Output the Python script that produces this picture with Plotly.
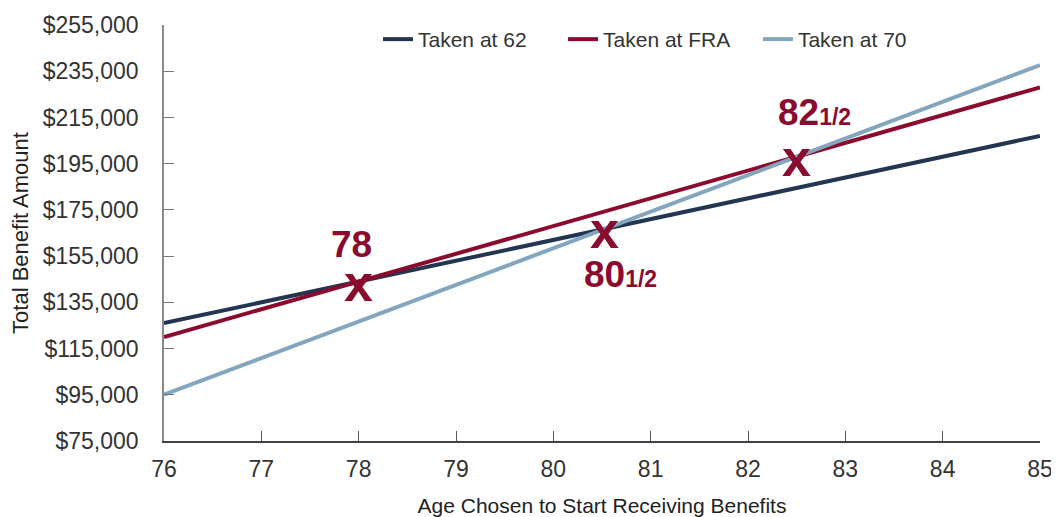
import plotly.graph_objects as go

ages = [76, 77, 78, 79, 80, 81, 82, 83, 84, 85]
taken_62 = [126000, 135000, 144000, 153000, 162000, 171000, 180000, 189000, 198000, 207000]
taken_fra = [120000, 132000, 144000, 156000, 168000, 180000, 192000, 204000, 216000, 228000]
taken_70 = [95040, 110880, 126720, 142560, 158400, 174240, 190080, 205920, 221760, 237600]

series_names = ["Taken at 62", "Taken at FRA", "Taken at 70"]
series_colors = ["#243551", "#8a0b2e", "#83a6be"]

cross_ages = [78.0, 80.526, 82.5]
cross_values = [144000, 166737, 198000]
cross_main = ["78", "80", "82"]
cross_frac = ["", "1/2", "1/2"]

y_ticks = [75000, 95000, 115000, 135000, 155000, 175000, 195000, 215000, 235000, 255000]
y_tick_text = ["$75,000", "$95,000", "$115,000", "$135,000", "$155,000", "$175,000",
               "$195,000", "$215,000", "$235,000", "$255,000"]

FONT = "Liberation Sans, Arial, sans-serif"
RED = "#8a0b2e"

legend_ids = ["legend", "legend2", "legend3"]
legend_x = [0.2443, 0.4555, 0.678]

fig = go.Figure()
for name, vals, col, lid in zip(series_names, [taken_62, taken_fra, taken_70],
                                series_colors, legend_ids):
    fig.add_trace(go.Scatter(x=ages, y=vals, mode="lines", name=name, legend=lid,
                             line=dict(color=col, width=4), hoverinfo="skip"))

# label offsets in pixels (x, y) relative to crossing
label_shift = [(-7, 37), (16, -46), (18, 44)]
for a, v, m, f, (dx, dy) in zip(cross_ages, cross_values, cross_main, cross_frac, label_shift):
    fig.add_annotation(x=a, y=v, text="<b>x</b>", showarrow=False,
                       font=dict(family=FONT, size=52, color=RED),
                       xanchor="center", yanchor="middle", yshift=-1)
    txt = "<b>" + m + (f"<span style='font-size:23px'>{f}</span>" if f else "") + "</b>"
    fig.add_annotation(x=a, y=v, text=txt, showarrow=False,
                       font=dict(family=FONT, size=37, color=RED),
                       xanchor="center", yanchor="middle", xshift=dx, yshift=dy)

leg_common = dict(orientation="h", y=1.012, xanchor="left", yanchor="top",
                  font=dict(size=21, color="#333333"), bgcolor="rgba(0,0,0,0)",
                  itemwidth=30)
# page body has an 8px margin, so the figure is sized to fit inside the window
fig.update_layout(
    width=1051, height=509,
    margin=dict(l=156, r=19, t=16, b=76),
    paper_bgcolor="white", plot_bgcolor="white",
    font=dict(family=FONT, color="#333333"),
    showlegend=True,
    legend=dict(x=legend_x[0], **leg_common),
    legend2=dict(x=legend_x[1], **leg_common),
    legend3=dict(x=legend_x[2], **leg_common),
)
fig.update_xaxes(range=[76, 85], tickvals=ages, ticks="inside", ticklen=10,
                 tickcolor="#555555", showline=True, linecolor="#444444", linewidth=1.5,
                 showgrid=False, zeroline=False, automargin=False,
                 tickfont=dict(size=23, color="#333333"), ticklabelstandoff=7,
                 title=dict(text="Age Chosen to Start Receiving Benefits",
                            font=dict(size=21, color="#222222"), standoff=17))
fig.update_yaxes(range=[75000, 255000], tickvals=y_ticks, ticktext=y_tick_text,
                 ticks="inside", ticklen=10, tickcolor="#777777",
                 showline=True, linecolor="#888888", linewidth=1.5,
                 showgrid=False, zeroline=False, automargin=False,
                 tickfont=dict(size=23, color="#333333"), ticklabelstandoff=19,
                 title=dict(text="Total Benefit Amount",
                            font=dict(size=22, color="#222222"), standoff=8))

fig.write_html("out.html")
